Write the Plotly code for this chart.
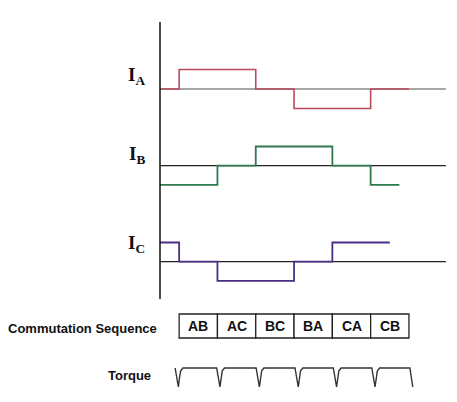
import plotly.graph_objects as go

# switching instants (in 30 deg electrical steps) and phase current levels
ia_x = [0, 1, 5, 7, 11, 13]
ia_y = [0, 1, 0, -1, 0, 0]
ib_x = [0, 3, 5, 9, 11, 12.5]
ib_y = [-1, 0, 1, 0, -1, -1]
ic_x = [0, 1, 3, 7, 9, 12]
ic_y = [1, 0, -1, 0, 1, 1]

base_x = [0, 14.93]
base_y = [0, 0]

seq_labels = ["AB", "AC", "BC", "BA", "CA", "CB"]
seq_x = [2, 4, 6, 8, 10, 12]

torque_x = [0.79, 0.96, 1.02, 1.08, 1.2,
            2.96, 3.13, 3.19, 3.25, 3.37,
            5.02, 5.19, 5.25, 5.31, 5.43,
            7.05, 7.22, 7.28, 7.34, 7.46,
            9.05, 9.22, 9.28, 9.34, 9.46,
            11.06, 11.23, 11.29, 11.35, 11.47,
            13.05, 13.2]
torque_y = [1, 0, 0.5, 0.85, 1,
            1, 0, 0.5, 0.85, 1,
            1, 0, 0.5, 0.85, 1,
            1, 0, 0.5, 0.85, 1,
            1, 0, 0.5, 0.85, 1,
            1, 0, 0.5, 0.85, 1,
            1, 0]

W, H = 457, 402
X0, UNIT = 160, 19.15


def py(p):
    return 1 - p / H


def dom(top, bottom):
    return [py(bottom), py(top)]


fig = go.Figure()

# baselines
fig.add_trace(go.Scatter(x=base_x, y=base_y, mode="lines", line=dict(color="#8a8a8a", width=1.6), yaxis="y"))
fig.add_trace(go.Scatter(x=base_x, y=base_y, mode="lines", line=dict(color="#222222", width=1.2), yaxis="y2"))
fig.add_trace(go.Scatter(x=base_x, y=base_y, mode="lines", line=dict(color="#222222", width=1.2), yaxis="y3"))

# phase currents
fig.add_trace(go.Scatter(x=ia_x, y=ia_y, mode="lines", line_shape="hv",
                         line=dict(color="#b84a5c", width=1.6), yaxis="y"))
fig.add_trace(go.Scatter(x=ib_x, y=ib_y, mode="lines", line_shape="hv",
                         line=dict(color="#2e7a4e", width=1.8), yaxis="y2"))
fig.add_trace(go.Scatter(x=ic_x, y=ic_y, mode="lines", line_shape="hv",
                         line=dict(color="#4a2d86", width=1.8), yaxis="y3"))

# commutation sequence boxes
fig.add_trace(go.Bar(x=seq_x, y=[1] * 6, base=0, width=2, yaxis="y4",
                     marker=dict(color="white", line=dict(color="#222222", width=1.3))))
for lab, xx in zip(seq_labels, seq_x):
    fig.add_annotation(text="<b>" + lab + "</b>", x=xx, y=0.5, xref="x", yref="y4",
                       showarrow=False, font=dict(family="Liberation Sans", size=14, color="#111111"))

# torque ripple
fig.add_trace(go.Scatter(x=torque_x, y=torque_y, mode="lines",
                         line=dict(color="#333333", width=1.4), yaxis="y5"))

hidden = dict(visible=False, fixedrange=True)
fig.update_layout(
    width=W, height=H,
    margin=dict(l=0, r=0, t=0, b=0),
    paper_bgcolor="white", plot_bgcolor="white",
    showlegend=False,
    hovermode=False,
    xaxis=dict(range=[-X0 / UNIT, (W - X0) / UNIT], domain=[0, 1], **hidden),
    yaxis=dict(range=[-1.5, 1.5], domain=dom(89 - 29.25, 89 + 29.25), **hidden),
    yaxis2=dict(range=[-1.5, 1.5], domain=dom(165.7 - 28.8, 165.7 + 28.8), **hidden),
    yaxis3=dict(range=[-1.5, 1.5], domain=dom(261.7 - 28.8, 261.7 + 28.8), **hidden),
    yaxis4=dict(range=[-0.1, 1.1], domain=dom(311.6, 340.4), **hidden),
    yaxis5=dict(range=[-0.5, 1.5], domain=dom(358.5, 396.5), **hidden),
    shapes=[dict(type="line", xref="x", yref="paper", x0=0, x1=0,
                 y0=py(299), y1=py(22), line=dict(color="#111111", width=1.5))],
)

serif = dict(family="Liberation Serif", size=19, color="#111111")
sans = dict(family="Liberation Sans", size=13, color="#111111")
for txt, yy, xx in [("I<sub>A</sub>", 76, 147), ("I<sub>B</sub>", 155, 147), ("I<sub>C</sub>", 244, 147)]:
    fig.add_annotation(text="<b>" + txt + "</b>", x=xx / W, y=py(yy), xref="paper", yref="paper",
                       xanchor="right", yanchor="middle", showarrow=False, font=serif)
fig.add_annotation(text="<b>Commutation Sequence</b>", x=6 / W, y=py(328), xref="paper", yref="paper",
                   xanchor="left", yanchor="middle", showarrow=False, font=sans)
fig.add_annotation(text="<b>Torque</b>", x=153 / W, y=py(375), xref="paper", yref="paper",
                   xanchor="right", yanchor="middle", showarrow=False, font=sans)

# page body margin would shift the 457x402 figure inside the window
fig.write_html("out.html", config={"displayModeBar": False},
               post_script="document.body.style.margin='0';")
